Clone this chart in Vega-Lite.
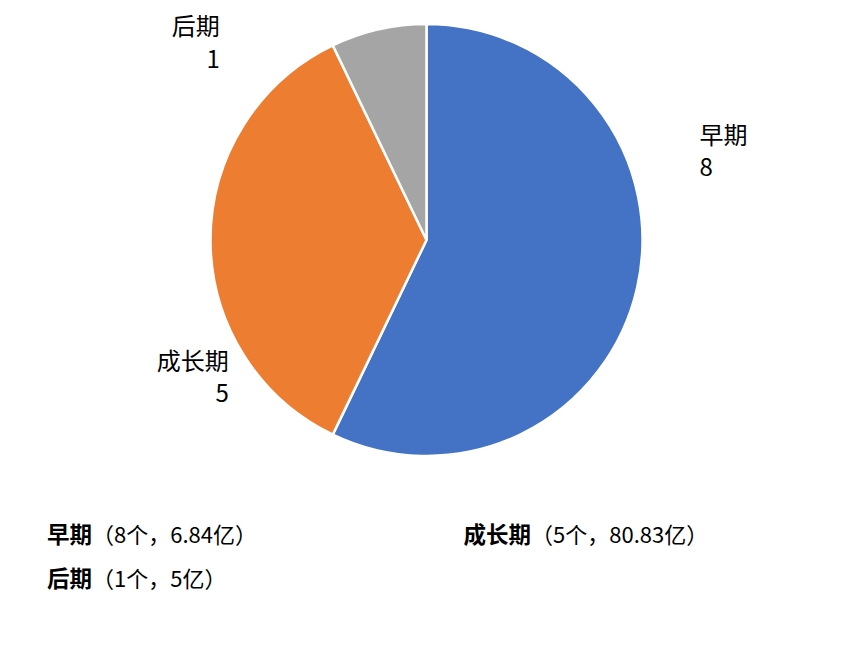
{
  "$schema": "https://vega.github.io/schema/vega-lite/v6.json",
  "padding": 0,
  "spacing": 0,
  "background": "white",
  "data": {
    "values": [
      {"stage": "早期", "count": 8, "amount": 6.84},
      {"stage": "成长期", "count": 5, "amount": 80.83},
      {"stage": "后期", "count": 1, "amount": 5}
    ]
  },
  "vconcat": [
    {
      "width": 853,
      "height": 480,
      "transform": [
        {"window": [{"op": "row_number", "as": "i"}]},
        {"calculate": "[datum.stage, '' + datum.count]", "as": "lbl"}
      ],
      "layer": [
        {
          "mark": {"type": "arc", "outerRadius": 216, "stroke": "white", "strokeWidth": 2.5},
          "encoding": {
            "theta": {"field": "count", "type": "quantitative", "stack": true},
            "color": {
              "field": "stage",
              "type": "nominal",
              "scale": {"domain": ["早期", "成长期", "后期"], "range": ["#4472C4", "#ED7D31", "#A5A5A5"]},
              "legend": null
            },
            "order": {"field": "i", "type": "quantitative"}
          }
        },
        {
          "transform": [
            {"stack": "count", "groupby": [], "sort": [{"field": "i"}], "as": ["v0", "v1"]},
            {"filter": "datum.stage === '早期'"}
          ],
          "mark": {"type": "text", "radius": 216, "align": "left", "baseline": "alphabetic", "dx": 273, "dy": 120,
                   "fontSize": 24, "lineHeight": 32, "font": "Noto Sans CJK SC", "color": "#000"},
          "encoding": {
            "theta": {"field": "v0", "type": "quantitative"},
            "text": {"field": "lbl"}
          }
        },
        {
          "transform": [
            {"stack": "count", "groupby": [], "sort": [{"field": "i"}], "as": ["v0", "v1"]},
            {"filter": "datum.stage === '成长期'"}
          ],
          "mark": {"type": "text", "radius": 216, "align": "right", "baseline": "alphabetic", "dx": -104, "dy": -65,
                   "fontSize": 24, "lineHeight": 32, "font": "Noto Sans CJK SC", "color": "#000"},
          "encoding": {
            "theta": {"field": "v0", "type": "quantitative"},
            "text": {"field": "lbl"}
          }
        },
        {
          "transform": [
            {"stack": "count", "groupby": [], "sort": [{"field": "i"}], "as": ["v0", "v1"]},
            {"filter": "datum.stage === '后期'"}
          ],
          "mark": {"type": "text", "radius": 216, "align": "right", "baseline": "alphabetic", "dx": -113, "dy": -10,
                   "fontSize": 24, "lineHeight": 33, "font": "Noto Sans CJK SC", "color": "#000"},
          "encoding": {
            "theta": {"field": "v0", "type": "quantitative"},
            "text": {"field": "lbl"}
          }
        }
      ]
    },
    {
      "width": 853,
      "height": 184,
      "transform": [
        {"window": [{"op": "row_number", "as": "i"}]},
        {"calculate": "(datum.i - 1) % 2", "as": "col"},
        {"calculate": "floor((datum.i - 1) / 2)", "as": "row"},
        {"calculate": "'（' + datum.count + '个，' + datum.amount + '亿）'", "as": "detail"}
      ],
      "encoding": {
        "x": {"field": "col", "type": "ordinal", "axis": null, "scale": {"range": [92, 531], "padding": 0}},
        "y": {"field": "row", "type": "ordinal", "axis": null, "scale": {"range": [56, 100], "padding": 0}}
      },
      "layer": [
        {
          "mark": {"type": "text", "align": "right", "baseline": "middle", "fontSize": 22.5, "fontWeight": "bold",
                   "font": "Noto Sans CJK SC", "color": "#000"},
          "encoding": {"text": {"field": "stage"}}
        },
        {
          "mark": {"type": "text", "align": "left", "baseline": "middle", "fontSize": 22, "fontWeight": "normal",
                   "font": "Noto Sans CJK SC", "color": "#000"},
          "encoding": {"text": {"field": "detail"}}
        }
      ]
    }
  ],
  "config": {"view": {"stroke": null}}
}
